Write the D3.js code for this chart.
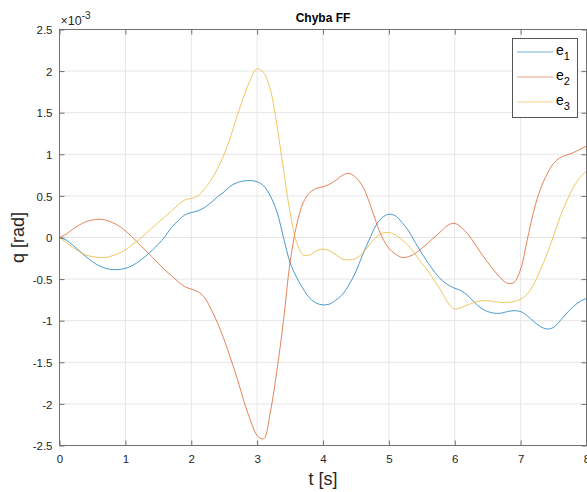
<!DOCTYPE html>
<html><head><meta charset="utf-8">
<script src="https://cdn.jsdelivr.net/npm/d3@7"></script>
<style>body{margin:0;background:#fff}svg{display:block}text{font-family:"Helvetica","Liberation Sans",Arial,sans-serif}</style>
</head><body><svg id="c" width="587" height="492"></svg>
<script>
const t = d3.range(0, 81).map(i => +(i * 0.1).toFixed(1));
const e1 = [0,-0.03,-0.09,-0.16,-0.23,-0.29,-0.34,-0.37,-0.385,-0.385,
 -0.37,-0.34,-0.29,-0.23,-0.16,-0.08,0.01,0.12,0.20,0.27,
 0.30,0.32,0.36,0.42,0.49,0.55,0.62,0.66,0.68,0.685,
 0.67,0.62,0.50,0.31,0.0,-0.30,-0.48,-0.62,-0.73,-0.79,
 -0.81,-0.80,-0.75,-0.68,-0.56,-0.41,-0.21,-0.03,0.14,0.24,
 0.28,0.26,0.18,0.08,-0.06,-0.19,-0.31,-0.42,-0.51,-0.57,
 -0.61,-0.64,-0.70,-0.78,-0.85,-0.89,-0.91,-0.91,-0.89,-0.88,
 -0.89,-0.94,-1.01,-1.07,-1.10,-1.08,-1.00,-0.91,-0.83,-0.77,-0.73];
const e2 = [0,0.04,0.10,0.15,0.19,0.21,0.22,0.21,0.18,0.14,
 0.08,0.01,-0.07,-0.15,-0.23,-0.31,-0.39,-0.46,-0.53,-0.59,
 -0.62,-0.65,-0.72,-0.86,-1.03,-1.23,-1.46,-1.70,-1.97,-2.20,
 -2.38,-2.42,-2.10,-1.60,-1.00,-0.30,0.15,0.42,0.54,0.59,
 0.61,0.64,0.69,0.75,0.77,0.72,0.62,0.43,0.20,0.0,
 -0.13,-0.20,-0.24,-0.23,-0.19,-0.13,-0.06,0.01,0.08,0.15,
 0.17,0.12,0.04,-0.07,-0.19,-0.30,-0.40,-0.49,-0.55,-0.54,
 -0.38,-0.03,0.32,0.58,0.76,0.89,0.96,0.99,1.02,1.06,1.10];
const e3 = [0,-0.06,-0.12,-0.17,-0.21,-0.23,-0.24,-0.24,-0.22,-0.19,
 -0.15,-0.09,-0.03,0.04,0.11,0.18,0.25,0.32,0.39,0.45,
 0.47,0.50,0.58,0.69,0.83,1.00,1.22,1.47,1.70,1.90,
 2.03,1.98,1.78,1.35,0.82,0.30,-0.06,-0.21,-0.21,-0.16,
 -0.14,-0.16,-0.21,-0.26,-0.27,-0.25,-0.19,-0.09,0.0,0.05,
 0.06,0.03,-0.03,-0.10,-0.20,-0.31,-0.41,-0.53,-0.65,-0.79,
 -0.86,-0.84,-0.81,-0.78,-0.76,-0.76,-0.77,-0.78,-0.78,-0.77,
 -0.74,-0.68,-0.56,-0.39,-0.20,0.02,0.25,0.44,0.60,0.72,0.80];
const seriesNames = ["1","2","3"];
const colors = ["#0072BD","#D95319","#EDB120"];
const xTicks = [0,1,2,3,4,5,6,7,8];
const yTicks = [-2.5,-2,-1.5,-1,-0.5,0,0.5,1,1.5,2,2.5];

const svg = d3.select("#c");
const L = 59.5, R = 586.5, T = 29.5, B = 445.5;
const x = d3.scaleLinear().domain([0,8]).range([L,R]);
const y = d3.scaleLinear().domain([-2.5,2.5]).range([B,T]);
const axisCol = "#707070", txtCol = "#262626";

// grid
svg.append("g").selectAll("line").data(xTicks).join("line")
  .attr("x1",d=>x(d)).attr("x2",d=>x(d)).attr("y1",T).attr("y2",B)
  .attr("stroke","#e6e6e6").attr("stroke-width",1);
svg.append("g").selectAll("line").data(yTicks).join("line")
  .attr("y1",d=>y(d)).attr("y2",d=>y(d)).attr("x1",L).attr("x2",R)
  .attr("stroke","#e6e6e6").attr("stroke-width",1);

// lines
const data = [e1,e2,e3];
const line = d3.line().x((d,i)=>x(t[i])).y(d=>y(d)).curve(d3.curveCatmullRom.alpha(0.5));
svg.append("clipPath").attr("id","clp").append("rect").attr("x",L).attr("y",T-2).attr("width",R-L).attr("height",B-T+4);
svg.append("g").attr("clip-path","url(#clp)").selectAll("path").data(data).join("path")
  .attr("d",d=>line(d)).attr("fill","none")
  .attr("stroke",(d,i)=>colors[i]).attr("stroke-width",0.9).attr("stroke-opacity",0.8);

// axes
const axB = d3.axisBottom(x).tickValues(xTicks).tickSize(-5).tickPadding(9).tickFormat(d3.format("d"));
const axT = d3.axisTop(x).tickValues(xTicks).tickSize(-5).tickFormat("");
const axL = d3.axisLeft(y).tickValues(yTicks).tickSize(-5).tickPadding(7).tickFormat(d=>String(d));
const axR = d3.axisRight(y).tickValues(yTicks).tickSize(-5).tickFormat("");
function style(g){
  g.selectAll(".tick line").attr("stroke",axisCol);
  g.selectAll(".tick text").attr("fill",txtCol).style("font-size","11.5px");
}
const gB = svg.append("g").attr("transform",`translate(0,${B})`).call(axB).call(style);
const gT = svg.append("g").attr("transform",`translate(0,${T})`).call(axT).call(style);
const gL = svg.append("g").attr("transform",`translate(${L},0)`).call(axL).call(style);
const gR = svg.append("g").attr("transform",`translate(${R},0)`).call(axR).call(style);
svg.selectAll(".domain").remove();
svg.append("rect").attr("x",L).attr("y",T).attr("width",R-L).attr("height",B-T)
  .attr("fill","none").attr("stroke",axisCol).attr("stroke-width",1);
gL.selectAll(".tick text").attr("dy","0.36em");

// exponent
const ex = svg.append("text").attr("x",L+1).attr("y",25).attr("fill",txtCol).style("font-size","12.5px");
ex.append("tspan").text("×10");
ex.append("tspan").attr("dy",-6).style("font-size","10px").text("-3");

// title
svg.append("text").attr("x",(L+R)/2).attr("y",22).attr("text-anchor","middle")
  .attr("fill","#000").style("font-size","12px").style("font-weight","bold").text("Chyba FF");
// axis labels
svg.append("text").attr("x",(L+R)/2).attr("y",485).attr("text-anchor","middle")
  .attr("fill",txtCol).style("font-size","18px").text("t [s]");
svg.append("text").attr("transform",`translate(24,${(T+B)/2}) rotate(-90)`).attr("text-anchor","middle")
  .attr("fill",txtCol).style("font-size","18px").text("q [rad]");

// legend
const lg = svg.append("g");
lg.append("rect").attr("x",512.5).attr("y",38.5).attr("width",65).attr("height",79)
  .attr("fill","#fff").attr("stroke","#555").attr("stroke-width",1);
seriesNames.forEach((s,i)=>{
  const yy = 52 + i*25;
  lg.append("line").attr("x1",517).attr("x2",553).attr("y1",yy).attr("y2",yy)
    .attr("stroke",colors[i]).attr("stroke-width",0.9).attr("stroke-opacity",0.6);
  const tx = lg.append("text").attr("x",556).attr("y",yy+3).attr("fill","#000").style("font-size","14px");
  tx.append("tspan").text("e");
  tx.append("tspan").attr("dy",5).style("font-size","11px").text(s);
});
</script></body></html>
